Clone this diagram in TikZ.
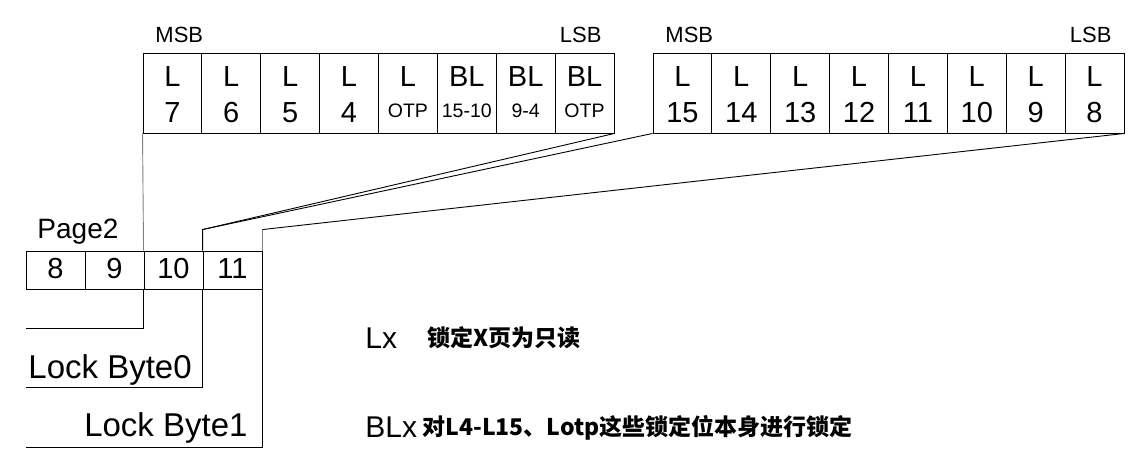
\documentclass[tikz,border=0pt]{standalone}
\usepackage{fontspec}
\setmainfont{Liberation Sans}
\newfontfamily\cjk{Noto Sans CJK SC}
\usepackage{tikz}

\begin{document}
\begin{tikzpicture}[x=1pt,y=-1pt,line width=0.9pt,
  cell/.style={draw,minimum width=58.875pt,minimum height=80pt,inner sep=0pt},
  pcell/.style={draw,minimum width=59pt,minimum height=38pt,inner sep=0pt},
  big/.style={font=\fontsize{29}{32}\selectfont,anchor=base,inner sep=0pt},
  small/.style={font=\fontsize{19.5}{22}\selectfont,anchor=base,inner sep=0pt},
  tag/.style={font=\fontsize{22}{24}\selectfont,anchor=base,inner sep=0pt},
  note/.style={font=\cjk\bfseries\fontsize{23}{26}\selectfont,anchor=base west,inner sep=0pt}]
  \useasboundingbox (0,0) rectangle (1145,458);
  % lock byte 0 bits
  \foreach \t/\s/\i in {L/7/0,L/6/1,L/5/2,L/4/3} {
    \node[cell] (a\i) at (172.4+\i*58.875,93) {};
    \path (a\i.north) ++(0,34) node[big] {\t} ++(0,36) node[big] {\s};
  }
  \foreach \t/\s/\i in {L/OTP/4,BL/15-10/5,BL/9-4/6,BL/OTP/7} {
    \node[cell] (a\i) at (172.4+\i*58.875,93) {};
    \path (a\i.north) ++(0,34) node[big] {\t} ++(0,31) node[small] {\s};
  }
  % lock byte 1 bits
  \foreach \s/\i in {15/0,14/1,13/2,12/3,11/4,10/5,9/6,8/7} {
    \node[cell] (b\i) at (682.4+\i*58.875,93) {};
    \path (b\i.north) ++(0,34) node[big] {L} ++(0,36) node[big] {\s};
  }
  \node[tag,anchor=base west] (msb0) at (155,42) {MSB};
  \node[tag,anchor=base east] (lsb0) at (602,42) {LSB};
  \node[tag,anchor=base west] (msb1) at (665,42) {MSB};
  \node[tag,anchor=base east] (lsb1) at (1112,42) {LSB};
  % page 2
  \foreach \s/\i in {8/0,9/1,10/2,11/3} {
    \node[pcell] (c\i) at (55.5+\i*59,270) {};
    \path (c\i.south) ++(0,-11) node[big] {\s};
  }
  \node[big,anchor=base west,font=\fontsize{28}{30}\selectfont] (page) at (37,238) {Page2};
  \coordinate (lb0) at (26,328);
  \coordinate (lb1) at (26,387);
  \coordinate (lb2) at (26,447);
  \draw (c2.south west) |- (lb0);
  \draw (c3.south west) |- (lb1);
  \draw (c3.south east) |- (lb2);
  \node[font=\fontsize{33}{36}\selectfont,anchor=base west,inner sep=0pt] (byte0) at (28,378) {Lock Byte0};
  \node[font=\fontsize{33}{36}\selectfont,anchor=base east,inner sep=0pt] (byte1) at (248,436) {Lock Byte1};
  % mapping lines
  \draw[gray] (a0.south west) -- (c2.north west);
  \draw (c3.north west) -- ++(0,-21) coordinate (k0) -- (a7.south east);
  \draw (k0) -- (b0.south west);
  \draw[gray] (c3.north east) -- ++(0,-21) coordinate (k1);
  \draw (k1) -- (b7.south east);
  % legend
  \node[big,anchor=base west,font=\fontsize{30}{32}\selectfont] (lx) at (365,348) {Lx};
  \node[big,anchor=base west,font=\fontsize{30}{32}\selectfont] (blx) at (365,437) {BLx};
  \node[note] (lxtext) at (427,346) {锁定X页为只读};
  \node[note] (blxtext) at (422,435) {对L4-L15、Lotp这些锁定位本身进行锁定};
\end{tikzpicture}
\end{document}
